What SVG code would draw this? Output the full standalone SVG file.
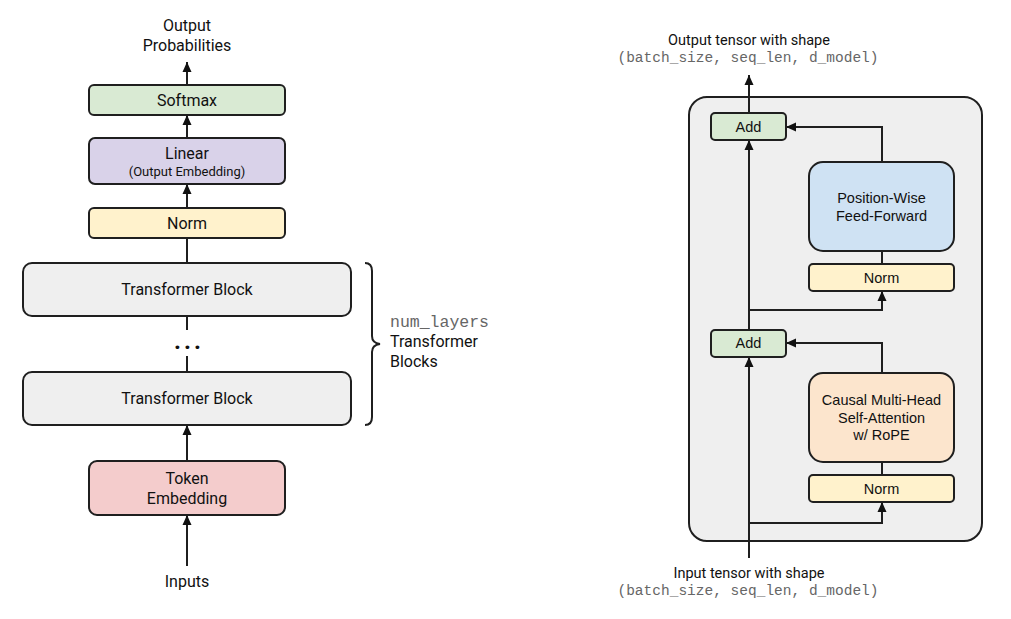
<svg xmlns="http://www.w3.org/2000/svg" width="1011" height="619" viewBox="0 0 1011 619">
<style>
.box{stroke:#1f1f1f;stroke-width:2}
.ln{stroke:#1f1f1f;stroke-width:2;fill:none}
.t{font-family:Roboto,"Liberation Sans",sans-serif;fill:#111;text-anchor:middle}
.s{text-anchor:start}
.a{font-family:"Liberation Sans",Arial,sans-serif;fill:#111;text-anchor:middle;font-size:14.5px}
.m{font-family:"Liberation Mono","Courier New",monospace;fill:#666}
</style>
<defs>
<marker id="ah" markerWidth="10" markerHeight="10" viewBox="0 0 10 10" refX="10" refY="5" orient="auto" markerUnits="userSpaceOnUse">
<path d="M0,0.5 L10,5 L0,9.5 Z" fill="#111"/>
</marker>
</defs>
<rect width="1011" height="619" fill="#fff"/>

<g id="block-container">
<rect class="box" x="689" y="97" width="293" height="444" rx="18" fill="#efefef"/>
</g>

<g id="connectors">
<line class="ln" x1="187" y1="85" x2="187" y2="62" marker-end="url(#ah)"/>
<line class="ln" x1="187" y1="138" x2="187" y2="115" marker-end="url(#ah)"/>
<line class="ln" x1="187" y1="208" x2="187" y2="184" marker-end="url(#ah)"/>
<line class="ln" x1="187" y1="238" x2="187" y2="263"/>
<line class="ln" x1="187" y1="316" x2="187" y2="330"/>
<line class="ln" x1="187" y1="356" x2="187" y2="372"/>
<line class="ln" x1="187" y1="461" x2="187" y2="425" marker-end="url(#ah)"/>
<line class="ln" x1="187" y1="566" x2="187" y2="515" marker-end="url(#ah)"/>
<path class="ln" d="M365,263 Q372,263 372,271 L372,336 Q372,343 380,344 Q372,345 372,352 L372,417 Q372,425 365,425"/>

<line class="ln" x1="749" y1="113" x2="749" y2="75" marker-end="url(#ah)"/>
<line class="ln" x1="749" y1="330" x2="749" y2="140" marker-end="url(#ah)"/>
<path class="ln" d="M882,162 L882,127 L786,127" marker-end="url(#ah)"/>
<line class="ln" x1="882" y1="251" x2="882" y2="264"/>
<path class="ln" d="M749,310 L882,310 L882,291" marker-end="url(#ah)"/>
<path class="ln" d="M882,373 L882,343 L786,343" marker-end="url(#ah)"/>
<line class="ln" x1="882" y1="462" x2="882" y2="475"/>
<path class="ln" d="M749,523 L882,523 L882,502" marker-end="url(#ah)"/>
<line class="ln" x1="749" y1="558" x2="749" y2="357" marker-end="url(#ah)"/>
</g>

<g id="output-label">
<text class="t" x="187" y="31" font-size="16">Output</text>
<text class="t" x="187" y="51" font-size="16">Probabilities</text>
</g>
<g id="softmax">
<rect class="box" x="89" y="85" width="196" height="30" rx="5" fill="#d9ead3"/>
<text class="t" x="187" y="106" font-size="16">Softmax</text>
</g>
<g id="linear">
<rect class="box" x="89" y="138" width="196" height="46" rx="6" fill="#d9d2e9"/>
<text class="t" x="187" y="159" font-size="16">Linear</text>
<text class="t" x="187" y="176" font-size="13">(Output Embedding)</text>
</g>
<g id="norm-final">
<rect class="box" x="89" y="208" width="196" height="30" rx="5" fill="#fff2cc"/>
<text class="t" x="187" y="229" font-size="16">Norm</text>
</g>
<g id="block1">
<rect class="box" x="23" y="263" width="328" height="53" rx="9" fill="#efefef"/>
<text class="t" x="187" y="295" font-size="16">Transformer Block</text>
</g>
<g id="dots">
<text class="t" x="189" y="349" font-size="24" font-weight="bold" letter-spacing="3">...</text>
</g>
<g id="block2">
<rect class="box" x="23" y="372" width="328" height="53" rx="9" fill="#efefef"/>
<text class="t" x="187" y="404" font-size="16">Transformer Block</text>
</g>
<g id="token-embedding">
<rect class="box" x="89" y="461" width="196" height="54" rx="8" fill="#f4cccc"/>
<text class="t" x="187" y="484" font-size="16">Token</text>
<text class="t" x="187" y="504" font-size="16">Embedding</text>
</g>
<g id="inputs">
<text class="t" x="187" y="587" font-size="16">Inputs</text>
</g>
<g id="brace-label">
<text class="m" x="390" y="327" font-size="16.5">num_layers</text>
<text class="t s" x="390" y="347" font-size="16">Transformer</text>
<text class="t s" x="390" y="367" font-size="16">Blocks</text>
</g>

<g id="output-tensor">
<text class="t" x="749" y="45" font-size="14.5">Output tensor with shape</text>
<text class="m" x="748" y="62" font-size="14.5" text-anchor="middle">(batch_size, seq_len, d_model)</text>
</g>
<g id="add2">
<rect class="box" x="711" y="113" width="75" height="27" rx="4" fill="#d9ead3"/>
<text class="a" x="748.5" y="132">Add</text>
</g>
<g id="ffn">
<rect class="box" x="809" y="162" width="145" height="89" rx="14" fill="#cfe2f3"/>
<text class="a" x="881.5" y="203">Position-Wise</text>
<text class="a" x="881.5" y="221">Feed-Forward</text>
</g>
<g id="norm2">
<rect class="box" x="809" y="264" width="145" height="27" rx="4" fill="#fff2cc"/>
<text class="a" x="881.5" y="283">Norm</text>
</g>
<g id="add1">
<rect class="box" x="711" y="330" width="75" height="27" rx="4" fill="#d9ead3"/>
<text class="a" x="748.5" y="348">Add</text>
</g>
<g id="attention">
<rect class="box" x="809" y="373" width="145" height="89" rx="14" fill="#fce5cd"/>
<text class="a" x="881.5" y="405">Causal Multi-Head</text>
<text class="a" x="881.5" y="423">Self-Attention</text>
<text class="a" x="881.5" y="440">w/ RoPE</text>
</g>
<g id="norm1">
<rect class="box" x="809" y="475" width="145" height="27" rx="4" fill="#fff2cc"/>
<text class="a" x="881.5" y="494">Norm</text>
</g>
<g id="input-tensor">
<text class="t" x="749" y="578" font-size="14.5">Input tensor with shape</text>
<text class="m" x="748" y="595" font-size="14.5" text-anchor="middle">(batch_size, seq_len, d_model)</text>
</g>
</svg>
